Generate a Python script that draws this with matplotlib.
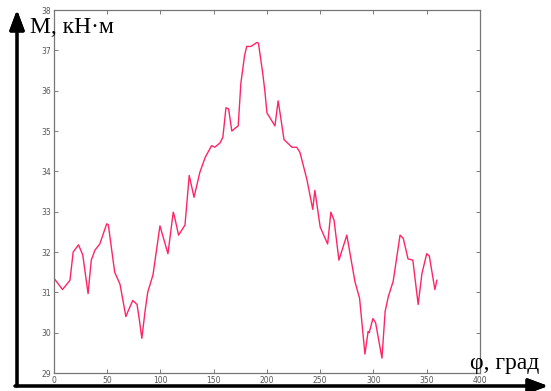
import matplotlib
matplotlib.use("Agg")
import matplotlib.pyplot as plt
import numpy as np

# angle, deg and moment, kN*m
phi = [0, 8, 15, 18, 23, 27, 32, 35, 38.5, 43, 49.5, 51, 57, 62, 67.5, 69.5, 74, 78,
       80, 82.5, 85.5, 88, 93, 99.5, 107, 112, 113, 117, 123, 127, 131.5, 137, 142,
       148, 151, 156, 158.6, 161.5, 164, 167, 170, 173, 175.5, 179, 181, 185, 190.6,
       192, 196, 198, 200, 207.5, 210.5, 212, 216, 223.5, 228, 231, 237.5, 243, 245,
       250, 257, 260, 263, 267.6, 275, 282.6, 287, 292, 295, 296, 299.5, 302, 308,
       311, 314, 318.5, 325, 328, 332.5, 337, 342, 345.5, 350, 352.5, 357.7, 359.6]
moment = [31.35, 31.07, 31.3, 32.0, 32.18, 31.93, 30.97, 31.8, 32.05, 32.2, 32.7, 32.68,
          31.5, 31.2, 30.4, 30.53, 30.8, 30.7, 30.35, 29.86, 30.53, 31.0, 31.44, 32.65,
          31.96, 32.99, 32.9, 32.42, 32.67, 33.9, 33.36, 33.98, 34.35, 34.64, 34.6,
          34.71, 34.85, 35.58, 35.55, 35.0, 35.07, 35.13, 36.19, 36.88, 37.1, 37.1,
          37.2, 37.18, 36.44, 36.0, 35.45, 35.13, 35.75, 35.5, 34.79, 34.6, 34.6, 34.47,
          33.8, 33.06, 33.53, 32.62, 32.2, 32.99, 32.79, 31.8, 32.42, 31.27, 30.85,
          29.47, 30.03, 30.0, 30.35, 30.25, 29.37, 30.53, 30.9, 31.27, 32.42, 32.34,
          31.83, 31.8, 30.7, 31.46, 31.96, 31.9, 31.07, 31.3]

x_ticks = [0, 50, 100, 150, 200, 250, 300, 350, 400]
y_ticks = [29, 30, 31, 32, 33, 34, 35, 36, 37, 38]

fig = plt.figure(figsize=(5.51, 3.91), dpi=100)
ax = fig.add_axes([0.098, 0.046, 0.773, 0.928])

ax.plot(phi, moment, color='#ff2466', linewidth=1.0)

ax.set(xlim=(0, 400), ylim=(29, 38))
ax.set_xticks(x_ticks)
ax.set_yticks(y_ticks)
ax.tick_params(direction='in', top=True, right=True, length=3, width=0.6,
               labelsize=5.5, labelcolor='#555555', color='#666666', pad=2)
for s in ax.spines.values():
    s.set_color('#777777')
    s.set_linewidth(0.9)

# big hand-drawn axes arrows
arrow = dict(arrowstyle='-|>,head_length=1.2,head_width=0.45', color='black',
             lw=2.2, shrinkA=0, shrinkB=0)
fig.add_artist(plt.annotate('', xy=(17 / 551, 1 - 10 / 391), xytext=(17 / 551, 1 - 386 / 391),
                            xycoords='figure fraction', arrowprops=arrow))
fig.add_artist(plt.annotate('', xy=(548 / 551, 1 - 386 / 391), xytext=(15 / 551, 1 - 386 / 391),
                            xycoords='figure fraction', arrowprops=arrow))

fig.text(30 / 551, 1 - 33 / 391, 'М, кН·м', fontsize=17, family='Liberation Serif')
fig.text(470 / 551, 1 - 369 / 391, 'φ, град', fontsize=17, family='Liberation Serif')

fig.savefig('out.png', dpi=100)
